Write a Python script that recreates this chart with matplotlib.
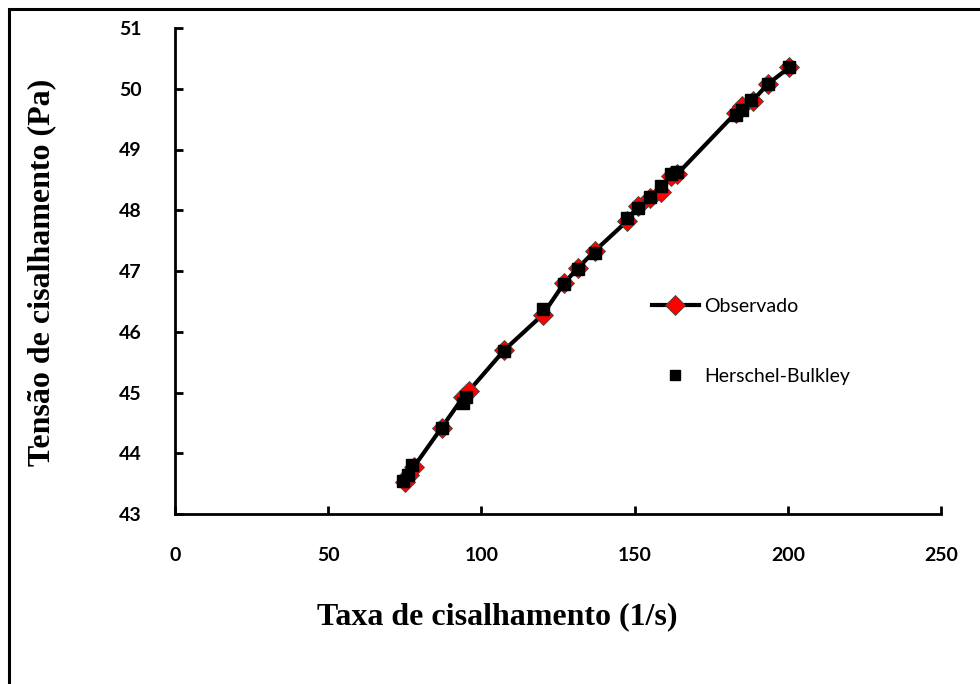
import matplotlib.pyplot as plt
from matplotlib.lines import Line2D
from matplotlib.patches import Rectangle

# shear rate (1/s) and shear stress (Pa)
taxa_obs = [75, 76.5, 78, 87, 94, 96, 107.5, 120, 127, 131.5, 137, 147.5,
            151, 155, 158.5, 162, 164, 183, 185, 188.5, 193.5, 200.5]
tensao_obs = [43.52, 43.65, 43.78, 44.42, 44.92, 45.03, 45.7, 46.28, 46.8,
              47.05, 47.33, 47.82, 48.07, 48.2, 48.3, 48.57, 48.6, 49.6,
              49.72, 49.8, 50.08, 50.35]

taxa_hb = [74.5, 76, 77.5, 87, 94, 95, 107.5, 120, 127, 131.5, 137, 147.5,
           151, 155, 158.5, 162, 164, 183, 185, 188, 193.5, 200.5]
tensao_hb = [43.55, 43.65, 43.8, 44.42, 44.82, 44.92, 45.68, 46.37, 46.78,
             47.03, 47.3, 47.88, 48.03, 48.22, 48.4, 48.6, 48.63, 49.57,
             49.65, 49.82, 50.07, 50.35]

xticks = [0, 50, 100, 150, 200, 250]
yticks = [43, 44, 45, 46, 47, 48, 49, 50, 51]

fig = plt.figure(figsize=(9.8, 6.84), dpi=100)
fig.patch.set_facecolor('white')

# outer frame (only left and top edges are visible)
fig.add_artist(Rectangle((9 / 980, -0.1), 1.2, 1 - 9 / 684 + 0.1,
                         transform=fig.transFigure, fill=False,
                         edgecolor='black', linewidth=2.2))

ax = fig.add_axes([175 / 980, 1 - 514 / 684, 766 / 980, 486 / 684])

ax.plot(taxa_obs, tensao_obs, color='black', linewidth=3, zorder=2)
ax.plot(taxa_obs, tensao_obs, linestyle='none', marker='D', markersize=10,
        markerfacecolor='red', markeredgecolor='#444444',
        markeredgewidth=0.6, zorder=3)
ax.plot(taxa_hb, tensao_hb, linestyle='none', marker='s', markersize=8,
        color='black', zorder=4)

ax.set_xlim(0, 250)
ax.set_ylim(43, 51)
ax.set_xticks(xticks)
ax.set_yticks(yticks)

for side in ['top', 'right']:
    ax.spines[side].set_visible(False)
for side in ['left', 'bottom']:
    ax.spines[side].set_linewidth(2)

tick_font = {'family': 'Lato', 'weight': 'bold', 'size': 14}
ax.tick_params(direction='in', length=6, width=2)
ax.tick_params(axis='x', pad=24)
ax.tick_params(axis='y', pad=24)
ax.set_xticklabels([str(v) for v in xticks], fontdict=tick_font)
ax.set_yticklabels([str(v) for v in yticks], fontdict=tick_font)

label_font = {'family': 'Liberation Serif', 'weight': 'bold', 'size': 23}
fig.text(497 / 980, 1 - 617 / 684, 'Taxa de cisalhamento (1/s)',
         ha='center', va='center', fontdict=label_font)
fig.text(42 / 980, 1 - 272 / 684, 'Tensão de cisalhamento (Pa)',
         ha='center', va='center', rotation=90, fontdict=label_font)

handles = [
    Line2D([], [], color='black', linewidth=3, marker='D', markersize=10,
           markerfacecolor='red', markeredgecolor='#444444',
           markeredgewidth=0.6),
    Line2D([], [], linestyle='none', marker='s', markersize=7, color='black'),
]
leg = ax.legend(handles, ['Observado', 'Herschel-Bulkley'],
                loc='center left', bbox_to_anchor=(0.6, 0.355),
                frameon=False, handlelength=2.4, handletextpad=0.3,
                labelspacing=2.75, prop={'family': 'Lato', 'size': 14})

fig.savefig('out.png', dpi=100, facecolor='white')
